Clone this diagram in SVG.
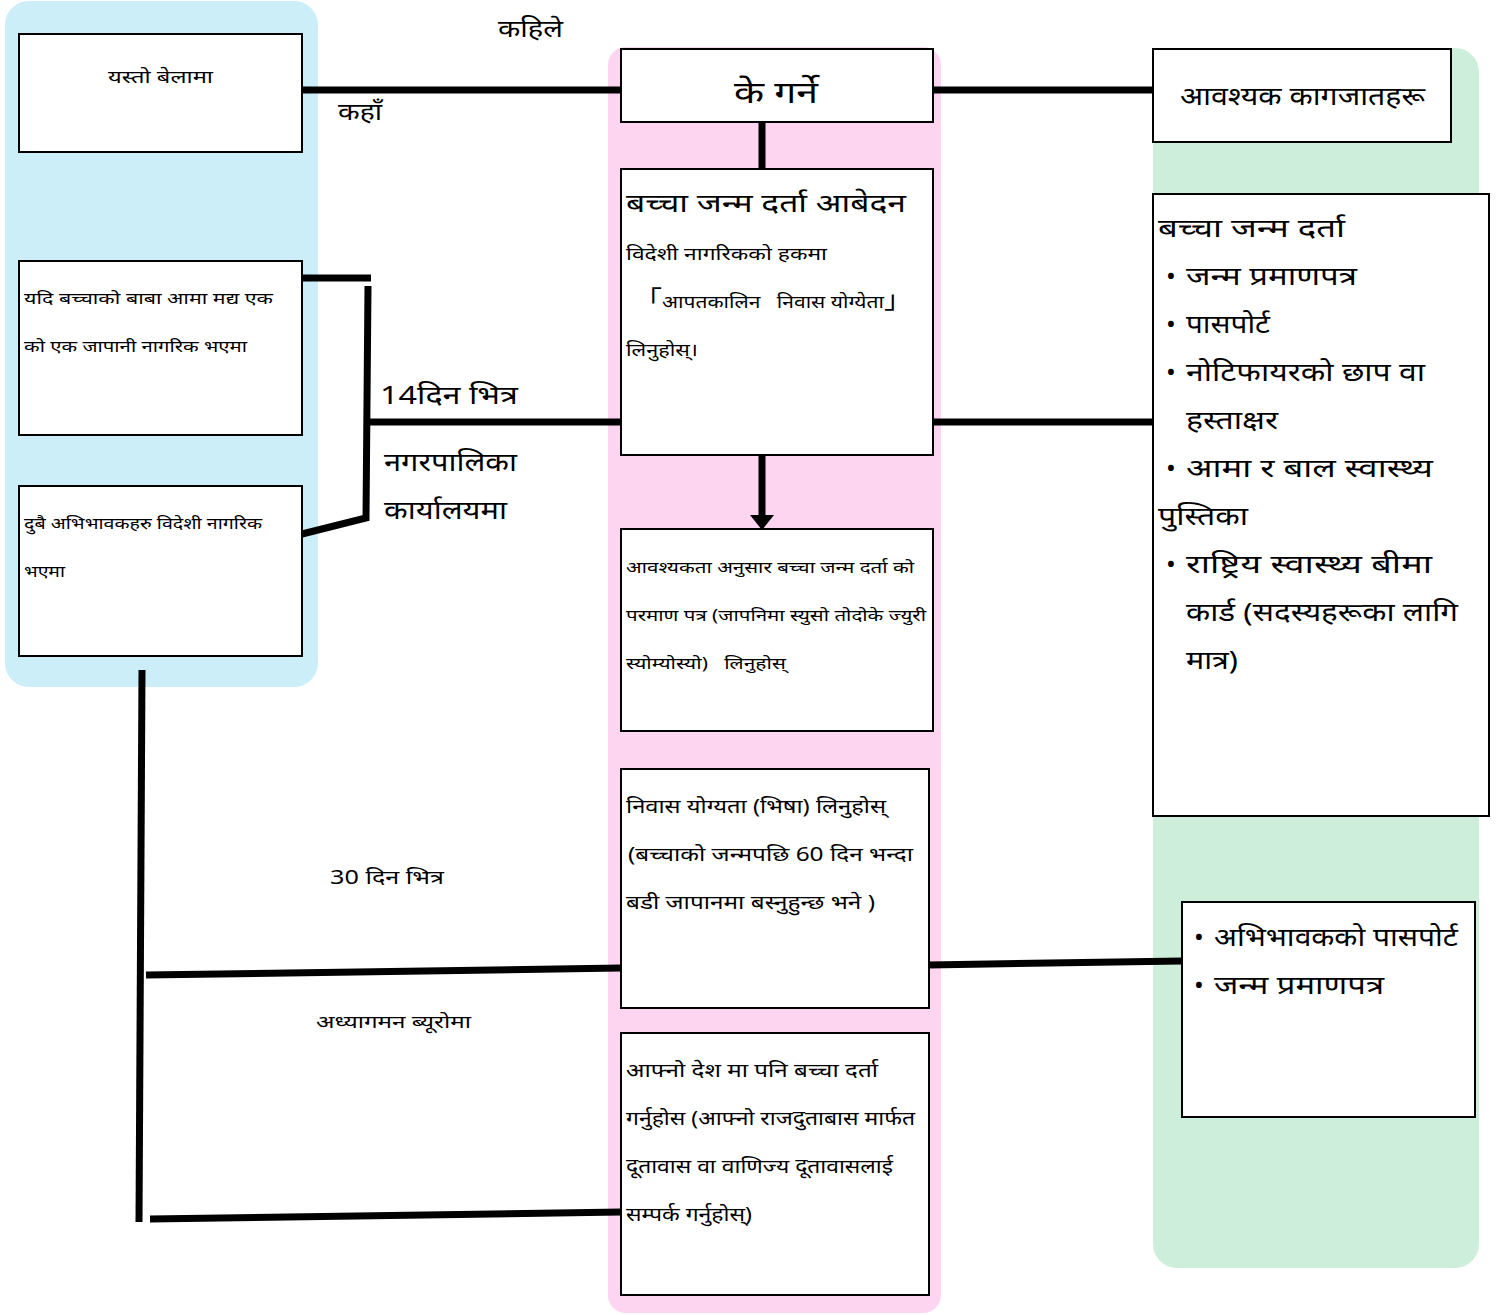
<svg xmlns="http://www.w3.org/2000/svg" width="1505" height="1315" viewBox="0 0 1505 1315">
<style>
text{font-family:"Noto Sans","Noto Sans Devanagari","DejaVu Sans",sans-serif;fill:#000}
.box{fill:#fff;stroke:#000;stroke-width:2}
.con{stroke:#000;stroke-width:7;fill:none}
.s16{font-size:16px}.s18{font-size:18px}.s19{font-size:19px}.s24{font-size:24px}.s26{font-size:26px}.s30{font-size:30px}
.cjk{font-family:"Noto Sans CJK JP",sans-serif;font-size:24px}
.pre{white-space:pre}
</style>
<rect width="1505" height="1315" fill="#fff"/>
<g id="panels">
<rect x="5" y="1" width="313" height="686" rx="24" fill="#cbeef9"/>
<rect x="608" y="47" width="333" height="1266" rx="18" fill="#fdd5f1"/>
<rect x="1153" y="48" width="326" height="1220" rx="24" fill="#cdeedb"/>
</g>
<g id="connectors">
<line class="con" x1="302" y1="90" x2="621" y2="90"/>
<line class="con" x1="933" y1="90" x2="1153" y2="90"/>
<line class="con" x1="762" y1="122" x2="762" y2="169"/>
<line class="con" x1="302" y1="278" x2="371" y2="278"/>
<polyline class="con" points="368,286 366,518 302,534"/>
<line class="con" x1="366" y1="422" x2="621" y2="422"/>
<line class="con" x1="933" y1="422" x2="1153" y2="422"/>
<line class="con" stroke-width="8" x1="762" y1="455" x2="762" y2="516"/>
<polygon points="750,515 774,515 762,530" fill="#000"/>
<line class="con" x1="142" y1="670" x2="139" y2="1222"/>
<line class="con" x1="146" y1="975" x2="621" y2="968"/>
<line class="con" x1="150" y1="1219" x2="621" y2="1212"/>
<line class="con" x1="929" y1="965" x2="1182" y2="961"/>
</g>
<g id="n-yasto">
<rect class="box" x="19" y="34" width="283" height="118"/>
<text class="s18" x="108" y="83" textLength="105" lengthAdjust="spacingAndGlyphs">यस्तो बेलामा</text>
</g>
<g id="n-yadi">
<rect class="box" x="19" y="261" width="283" height="174"/>
<text class="s16" x="24" y="304" textLength="249" lengthAdjust="spacingAndGlyphs">यदि बच्चाको बाबा आमा मद्य एक</text>
<text class="s16" x="24" y="352" textLength="223" lengthAdjust="spacingAndGlyphs">को एक जापानी नागरिक भएमा</text>
</g>
<g id="n-dubai">
<rect class="box" x="19" y="486" width="283" height="170"/>
<text class="s16" x="24" y="529" textLength="238" lengthAdjust="spacingAndGlyphs">दुबै अभिभावकहरु विदेशी नागरिक</text>
<text class="s16" x="24" y="577" textLength="41" lengthAdjust="spacingAndGlyphs">भएमा</text>
</g>
<g id="n-ke-garne">
<rect class="box" x="621" y="49" width="312" height="73"/>
<text class="s30" x="734" y="103" textLength="84" lengthAdjust="spacingAndGlyphs">के गर्ने</text>
</g>
<g id="n-aabedan">
<rect class="box" x="621" y="169" width="312" height="286"/>
<text class="s26" x="626" y="212" textLength="280" lengthAdjust="spacingAndGlyphs">बच्चा जन्म दर्ता आबेदन</text>
<text class="s18" x="626" y="260" textLength="201" lengthAdjust="spacingAndGlyphs">विदेशी नागरिकको हकमा</text>
<text class="s18 pre" x="634" y="308" textLength="278" lengthAdjust="spacingAndGlyphs"><tspan class="cjk">「</tspan>आपतकालिन   निवास योग्येता<tspan class="cjk">」</tspan></text>
<text class="s18" x="626" y="356" textLength="72" lengthAdjust="spacingAndGlyphs">लिनुहोस्।</text>
</g>
<g id="n-praman">
<rect class="box" x="621" y="529" width="312" height="202"/>
<text class="s16" x="626" y="573" textLength="288" lengthAdjust="spacingAndGlyphs">आवश्यकता अनुसार बच्चा जन्म दर्ता को</text>
<text class="s16" x="626" y="621" textLength="300" lengthAdjust="spacingAndGlyphs">परमाण पत्र (जापनिमा स्युसो तोदोके ज्युरी</text>
<text class="s16 pre" x="626" y="669" textLength="160" lengthAdjust="spacingAndGlyphs">स्योम्योस्यो)   लिनुहोस्</text>
</g>
<g id="n-niwas">
<rect class="box" x="621" y="769" width="308" height="239"/>
<text class="s19" x="626" y="813" textLength="260" lengthAdjust="spacingAndGlyphs">निवास योग्यता (भिषा) लिनुहोस्</text>
<text class="s19" x="628" y="861" textLength="285" lengthAdjust="spacingAndGlyphs">(बच्चाको जन्मपछि 60 दिन भन्दा</text>
<text class="s19" x="626" y="909" textLength="249" lengthAdjust="spacingAndGlyphs">बडी जापानमा बस्नुहुन्छ भने )</text>
</g>
<g id="n-aaphno">
<rect class="box" x="621" y="1033" width="308" height="262"/>
<text class="s19" x="626" y="1077" textLength="252" lengthAdjust="spacingAndGlyphs">आफ्नो देश मा पनि बच्चा दर्ता</text>
<text class="s19" x="626" y="1125" textLength="289" lengthAdjust="spacingAndGlyphs">गर्नुहोस (आफ्नो राजदुताबास मार्फत</text>
<text class="s19" x="626" y="1173" textLength="267" lengthAdjust="spacingAndGlyphs">दूतावास वा वाणिज्य दूतावासलाई</text>
<text class="s19" x="626" y="1221" textLength="126" lengthAdjust="spacingAndGlyphs">सम्पर्क गर्नुहोस्)</text>
</g>
<g id="n-kagajat">
<rect class="box" x="1153" y="49" width="298" height="93"/>
<text class="s26" x="1180" y="105" textLength="245" lengthAdjust="spacingAndGlyphs">आवश्यक कागजातहरू</text>
</g>
<g id="n-list1">
<rect class="box" x="1153" y="194" width="336" height="622"/>
<text class="s26" x="1158" y="237" textLength="187" lengthAdjust="spacingAndGlyphs">बच्चा जन्म दर्ता</text>
<text class="s26" x="1166" y="285">•</text><text class="s26" x="1186" y="285" textLength="171" lengthAdjust="spacingAndGlyphs">जन्म प्रमाणपत्र</text>
<text class="s26" x="1166" y="333">•</text><text class="s26" x="1186" y="333" textLength="84" lengthAdjust="spacingAndGlyphs">पासपोर्ट</text>
<text class="s26" x="1166" y="381">•</text><text class="s26" x="1186" y="381" textLength="239" lengthAdjust="spacingAndGlyphs">नोटिफायरको छाप वा</text>
<text class="s26" x="1186" y="429" textLength="92" lengthAdjust="spacingAndGlyphs">हस्ताक्षर</text>
<text class="s26" x="1166" y="477">•</text><text class="s26" x="1186" y="477" textLength="247" lengthAdjust="spacingAndGlyphs">आमा र बाल स्वास्थ्य</text>
<text class="s26" x="1158" y="525" textLength="90" lengthAdjust="spacingAndGlyphs">पुस्तिका</text>
<text class="s26" x="1166" y="573">•</text><text class="s26" x="1186" y="573" textLength="246" lengthAdjust="spacingAndGlyphs">राष्ट्रिय स्वास्थ्य बीमा</text>
<text class="s26" x="1186" y="621" textLength="272" lengthAdjust="spacingAndGlyphs">कार्ड (सदस्यहरूका लागि</text>
<text class="s26" x="1186" y="669" textLength="52" lengthAdjust="spacingAndGlyphs">मात्र)</text>
</g>
<g id="n-list2">
<rect class="box" x="1182" y="902" width="293" height="215"/>
<text class="s26" x="1194" y="946">•</text><text class="s26" x="1214" y="946" textLength="244" lengthAdjust="spacingAndGlyphs">अभिभावकको पासपोर्ट</text>
<text class="s26" x="1194" y="994">•</text><text class="s26" x="1214" y="994" textLength="170" lengthAdjust="spacingAndGlyphs">जन्म प्रमाणपत्र</text>
</g>
<g id="labels">
<text class="s24" x="498" y="37" textLength="65" lengthAdjust="spacingAndGlyphs">कहिले</text>
<text class="s24" x="338" y="120" textLength="44" lengthAdjust="spacingAndGlyphs">कहाँ</text>
<text class="s26" x="380" y="404" textLength="138" lengthAdjust="spacingAndGlyphs">14दिन भित्र</text>
<text class="s26" x="384" y="471" textLength="133" lengthAdjust="spacingAndGlyphs">नगरपालिका</text>
<text class="s26" x="384" y="519" textLength="123" lengthAdjust="spacingAndGlyphs">कार्यालयमा</text>
<text class="s19" x="330" y="884" textLength="114" lengthAdjust="spacingAndGlyphs">30 दिन भित्र</text>
<text class="s18" x="316" y="1028" textLength="155" lengthAdjust="spacingAndGlyphs">अध्यागमन ब्यूरोमा</text>
</g>
</svg>
